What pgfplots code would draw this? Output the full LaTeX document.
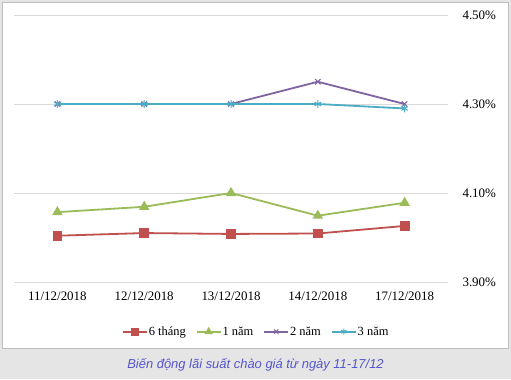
\documentclass[border=0pt]{standalone}
\usepackage{fontspec}
\setmainfont{Liberation Serif}
\newfontfamily\capfont{Liberation Sans}
\usepackage{pgfplots}
\pgfplotsset{compat=1.18}
\definecolor{c6}{RGB}{192,80,77}
\definecolor{c1}{RGB}{155,187,89}
\definecolor{c2}{RGB}{128,100,162}
\definecolor{c3}{RGB}{75,172,198}
\definecolor{bggray}{RGB}{229,229,229}
\definecolor{bordergray}{RGB}{190,190,190}
\definecolor{capcol}{RGB}{85,85,205}
\definecolor{gridgray}{RGB}{217,217,217}
\begin{document}
\begin{tikzpicture}[x=1bp,y=1bp]
\fill[bggray] (0,0) rectangle (511,379);
\filldraw[fill=white,draw=bordergray,line width=1bp] (2.5,31) rectangle (508.5,376.5);
\node[font=\capfont\itshape\fontsize{13}{15}\selectfont, text=capcol] at (255.5,14) {Biến động lãi suất chào giá từ ngày 11-17/12};
\begin{axis}[
  at={(14bp,97bp)}, anchor=south west,
  scale only axis, width=434bp, height=267bp,
  xmin=-0.5, xmax=4.5, ymin=3.90, ymax=4.50,
  xtick={0,1,2,3,4},
  xticklabels={11/12/2018,12/12/2018,13/12/2018,14/12/2018,17/12/2018},
  ytick={3.9,4.1,4.3,4.5},
  yticklabel pos=right,
  yticklabel={\pgfmathprintnumber[fixed,fixed zerofill,precision=2]{\tick}\%},
  /pgf/number format/assume math mode=true,
  axis line style={draw=none},
  major tick length=0pt,
  ymajorgrids, grid style={gridgray, line width=0.75bp},
  tick label style={font=\fontsize{13}{15}\selectfont},
  xticklabel style={yshift=-6bp},
  yticklabel style={xshift=11bp},
  clip=false,
  legend columns=4,
  legend style={draw=none, fill=none, at={(0.557,-0.186)}, anchor=center,
    font=\fontsize{12.5}{15}\selectfont,
    /tikz/every even column/.append style={column sep=9bp},
    nodes={inner xsep=1bp}},
  legend image code/.code={
    \draw[#1, line width=1.8bp, mark repeat=2, mark phase=2, mark size=3bp] plot coordinates {(0bp,0bp) (12bp,0bp) (24bp,0bp)};
  },
  every axis plot/.append style={line width=1.8bp},
]
\addplot[c6, mark=square*, mark size=4bp, mark options={fill=c6}] coordinates {(0,4.004) (1,4.010) (2,4.008) (3,4.009) (4,4.026)};
\addlegendentry{6 tháng}
\addplot[c1, mark=triangle*, mark size=4.3bp, mark options={fill=c1}] coordinates {(0,4.057) (1,4.069) (2,4.100) (3,4.049) (4,4.078)};
\addlegendentry{1 năm}
\addplot[c2, mark=x, mark size=3.8bp, mark options={line width=1bp}] coordinates {(0,4.30) (1,4.30) (2,4.30) (3,4.350) (4,4.30)};
\addlegendentry{2 năm}
\addplot[c3, mark=asterisk, mark size=3.8bp, mark options={line width=1bp}] coordinates {(0,4.30) (1,4.30) (2,4.30) (3,4.30) (4,4.290)};
\addlegendentry{3 năm}
\end{axis}
\end{tikzpicture}
\end{document}
